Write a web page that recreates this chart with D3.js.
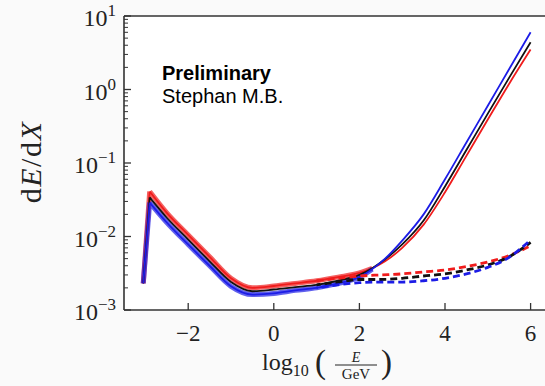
<!DOCTYPE html>
<html>
<head>
<meta charset="utf-8">
<script src="https://cdn.jsdelivr.net/npm/d3@7"></script>
<style>
body { margin: 0; background: #fff; }
text { fill: #222; }
</style>
</head>
<body>
<svg id="chart" width="545" height="386"></svg>
<script>
const svg = d3.select("#chart");

// energy grid, log10(E/GeV)
const xGrid = [-3.05, -2.9, -2.5, -2.0, -1.5, -1.0, -0.5, 0, 0.5, 1.0, 1.5, 2.0, 2.3, 2.6, 3.0, 3.5, 4.0, 4.5, 5.0, 5.5, 6.0];

// total dE/dX (solid)
const redSolid   = [0.0023, 0.041, 0.021, 0.0105, 0.0053, 0.0027, 0.0020, 0.00212, 0.0023, 0.0025, 0.0028, 0.0032, 0.0037, 0.0046, 0.0070, 0.0145, 0.040, 0.125, 0.39, 1.2, 3.5];
const blackSolid = [0.0023, 0.034, 0.018, 0.0091, 0.0046, 0.0024, 0.0018, 0.0019, 0.00205, 0.0022, 0.0025, 0.0030, 0.0037, 0.0049, 0.0078, 0.0165, 0.048, 0.15, 0.47, 1.45, 4.4];
const blueSolid  = [0.0023, 0.029, 0.0155, 0.0078, 0.0040, 0.0021, 0.00162, 0.00168, 0.00185, 0.0020, 0.0023, 0.0028, 0.0036, 0.0050, 0.0088, 0.020, 0.060, 0.19, 0.60, 1.9, 6.0];

// continuous part only (dashed)
const xDash = [1.0, 1.5, 2.0, 2.5, 3.0, 3.5, 4.0, 4.5, 5.0, 5.5, 6.0];
const redDash   = [0.0025, 0.0027, 0.0029, 0.0030, 0.0031, 0.0033, 0.0035, 0.0039, 0.0045, 0.0055, 0.0075];
const blackDash = [0.0022, 0.0024, 0.0026, 0.0026, 0.0027, 0.0029, 0.0031, 0.0035, 0.0041, 0.0053, 0.0083];
const blueDash  = [0.0020, 0.0022, 0.00235, 0.0024, 0.0024, 0.0025, 0.0027, 0.0031, 0.0038, 0.0052, 0.0090];

const xTicks = [-2, 0, 2, 4, 6];
const yTicks = [-3, -2, -1, 0, 1];

const pLeft = 124, pTop = 16, pBottom = 310, pRight = 552;

const x = d3.scaleLinear().domain([-3.5, 6.5]).range([pLeft, pRight]);
const y = d3.scaleLog().domain([1e-3, 1e1]).range([pBottom, pTop]);

// background
svg.append("rect").attr("width", 545).attr("height", 386).attr("fill", "#fafafa");
svg.append("rect").attr("x", pLeft).attr("y", pTop)
    .attr("width", 545 - pLeft).attr("height", pBottom - pTop).attr("fill", "#fff");

svg.append("clipPath").attr("id", "clip")
    .append("rect").attr("x", pLeft).attr("y", pTop)
    .attr("width", 545 - pLeft).attr("height", pBottom - pTop);

const plot = svg.append("g").attr("clip-path", "url(#clip)");

const line = d3.line()
    .x(d => x(d[0]))
    .y(d => y(d[1]))
    .curve(d3.curveMonotoneX);
const straight = d3.line()
    .x(d => x(d[0]))
    .y(d => y(d[1]));

const solids = [
    { vals: redSolid, color: "#f01c1c", halo: 5 },
    { vals: blackSolid, color: "#111", halo: 0 },
    { vals: blueSolid, color: "#1c1ce6", halo: 5 }
];
const dashes = [
    { vals: redDash, color: "#f01c1c", off: 0 },
    { vals: blackDash, color: "#111", off: 3 },
    { vals: blueDash, color: "#1c1ce6", off: 6 }
];

// sharp rise to the peak, then a smooth curve
function solidPath(pts) {
    return straight(pts.slice(0, 2)) + line(pts.slice(1));
}

// soft bundle width at low energies
solids.filter(s => s.halo > 0).forEach(s => {
    const pts = xGrid.map((v, i) => [v, s.vals[i]]).filter(d => d[0] <= 2.4);
    plot.append("path")
        .attr("d", solidPath(pts))
        .attr("fill", "none")
        .attr("stroke", s.color)
        .attr("stroke-opacity", 0.7)
        .attr("stroke-width", s.halo)
        .attr("stroke-linejoin", "round");
});

solids.forEach(s => {
    plot.append("path")
        .attr("d", solidPath(xGrid.map((v, i) => [v, s.vals[i]])))
        .attr("fill", "none")
        .attr("stroke", s.color)
        .attr("stroke-width", 1.8)
        .attr("stroke-linejoin", "round");
});

dashes.forEach(s => {
    plot.append("path")
        .attr("d", line(xDash.map((v, i) => [v, s.vals[i]])))
        .attr("fill", "none")
        .attr("stroke", s.color)
        .attr("stroke-width", 2.8)
        .attr("stroke-dasharray", "7,4")
        .attr("stroke-dashoffset", s.off);
});

// spines
const spine = "#333";
svg.append("line").attr("x1", pLeft).attr("x2", pLeft).attr("y1", pTop).attr("y2", pBottom)
    .attr("stroke", spine).attr("stroke-width", 1.6);
svg.append("line").attr("x1", pLeft).attr("x2", 545).attr("y1", pBottom).attr("y2", pBottom)
    .attr("stroke", spine).attr("stroke-width", 1.6);
svg.append("line").attr("x1", pLeft).attr("x2", 545).attr("y1", pTop).attr("y2", pTop)
    .attr("stroke", spine).attr("stroke-width", 1.6);

// x ticks (inward)
xTicks.forEach(t => {
    svg.append("line").attr("x1", x(t)).attr("x2", x(t))
        .attr("y1", pBottom).attr("y2", pBottom - 7)
        .attr("stroke", spine).attr("stroke-width", 1.3);
    svg.append("text").attr("x", x(t)).attr("y", pBottom + 31)
        .attr("text-anchor", "middle")
        .style("font-family", "Liberation Serif, serif").style("font-size", "23px")
        .text(t < 0 ? "\u2212" + Math.abs(t) : t);
});

// y ticks: major + minor
yTicks.forEach(p => {
    const v = Math.pow(10, p);
    svg.append("line").attr("x1", pLeft).attr("x2", pLeft + 7)
        .attr("y1", y(v)).attr("y2", y(v))
        .attr("stroke", spine).attr("stroke-width", 1.3);
    if (p < 1) {
        for (let k = 2; k <= 9; k++) {
            svg.append("line").attr("x1", pLeft).attr("x2", pLeft + 4)
                .attr("y1", y(k * v)).attr("y2", y(k * v))
                .attr("stroke", spine).attr("stroke-width", 1);
        }
    }
    const lbl = svg.append("text").attr("x", pLeft - 8).attr("y", y(v) + 10)
        .attr("text-anchor", "end")
        .style("font-family", "Liberation Serif, serif").style("font-size", "24px");
    lbl.append("tspan").text("10");
    lbl.append("tspan").attr("dy", -10).style("font-size", "17px")
        .text(p < 0 ? "\u2212" + Math.abs(p) : p);
});

// y label
const yl = svg.append("text")
    .attr("transform", "translate(41,162) rotate(-90)")
    .attr("text-anchor", "middle")
    .style("font-family", "Liberation Serif, serif").style("font-size", "30px")
    .style("letter-spacing", "1.5px");
yl.append("tspan").text("d");
yl.append("tspan").style("font-style", "italic").text("E");
yl.append("tspan").text("/d");
yl.append("tspan").style("font-style", "italic").text("X");

// x label
const xl = svg.append("g").attr("transform", "translate(262,370)")
    .style("font-family", "Liberation Serif, serif");
const lg = xl.append("text").style("font-size", "24px");
lg.append("tspan").text("log");
lg.append("tspan").attr("dy", 6).style("font-size", "16px").text("10");
xl.append("text").attr("x", 53).attr("y", 3).style("font-size", "33px").text("(");
xl.append("text").attr("x", 94).attr("y", -8).attr("text-anchor", "middle")
    .style("font-size", "14px").style("font-style", "italic").text("E");
xl.append("line").attr("x1", 73).attr("x2", 115).attr("y1", -5).attr("y2", -5)
    .attr("stroke", "#222").attr("stroke-width", 1.1);
xl.append("text").attr("x", 94).attr("y", 9).attr("text-anchor", "middle")
    .style("font-size", "15px").text("GeV");
xl.append("text").attr("x", 119).attr("y", 3).style("font-size", "33px").text(")");

// watermark
svg.append("text").attr("x", 162).attr("y", 80)
    .style("font-family", "Liberation Sans, Arial, sans-serif").style("font-size", "20px")
    .style("font-weight", "bold").style("fill", "#000").text("Preliminary");
svg.append("text").attr("x", 162).attr("y", 103)
    .style("font-family", "Liberation Sans, Arial, sans-serif").style("font-size", "20px")
    .style("fill", "#000").text("Stephan M.B.");
</script>
</body>
</html>
